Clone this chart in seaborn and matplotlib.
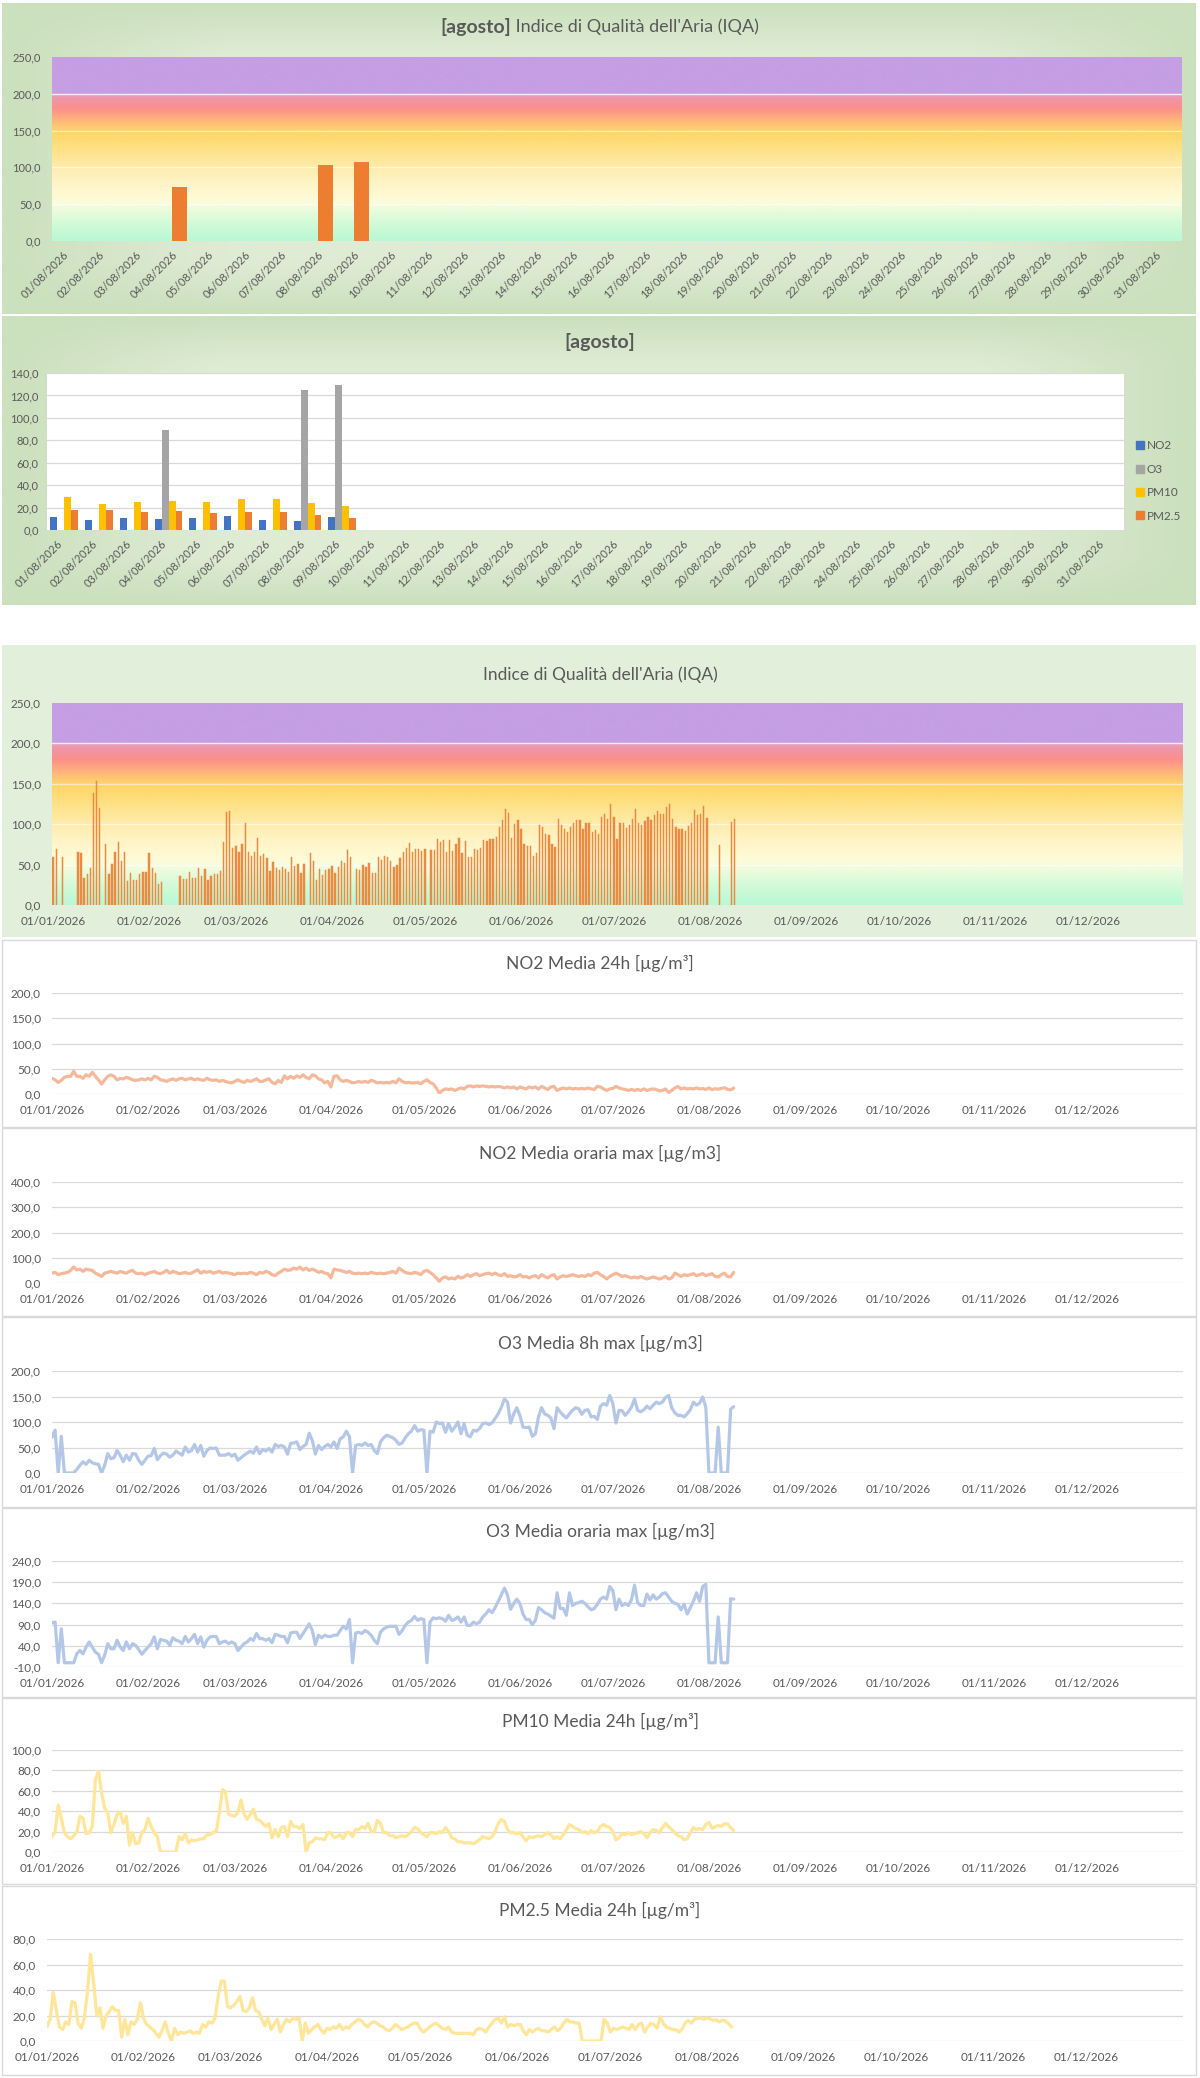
import numpy as np
import pandas as pd
import matplotlib
matplotlib.use("Agg")
import matplotlib.pyplot as plt
import seaborn as sns
from matplotlib.patches import Rectangle
from matplotlib.lines import Line2D

N = np.nan

# ---------------- DATA ----------------
aug_dates = [f"{d:02d}/08/2026" for d in range(1, 32)]
aug_iqa = [N, N, N, 74.0, N, N, N, 103.0, 107.0]
aug_no2 = [11.9, 8.6, 10.4, 9.5, 11.0, 12.5, 9.2, 8.0, 11.6]
aug_o3 = [N, N, N, 89.5, N, N, N, 124.6, 129.6]
aug_pm10 = [29.1, 23.2, 24.7, 25.9, 25.0, 27.6, 27.6, 23.8, 21.1]
aug_pm25 = [18.1, 17.5, 16.3, 16.6, 14.9, 16.3, 15.8, 13.4, 11.0]
pollutants = ["NO2", "O3", "PM10", "PM2.5"]

month_labels = ["01/01/2026", "01/02/2026", "01/03/2026", "01/04/2026", "01/05/2026", "01/06/2026",
                "01/07/2026", "01/08/2026", "01/09/2026", "01/10/2026", "01/11/2026", "01/12/2026"]
month_start = [0, 31, 59, 90, 120, 151, 181, 212, 243, 273, 304, 334]

iqa_year = (
    [60, 69, N, 59, N, N, N, N, 66, 64, 33, 38, 46, 139, 154, 120, N, 75, 38, 51, 66, 78, 55, 66, 30, 39, 31, 31, 38, 41, 41]  # gen
    + [64, 46, 39, 26, 28, N, N, N, N, N, 36, 32, 32, 41, 34, 34, 46, 36, 45, 31, 36, 38, 38, 42, 78, 115, 116, 70]  # feb
    + [73, 66, 76, 102, 66, 61, 66, 83, 61, 63, 58, 42, 53, 46, 43, 47, 44, 41, 59, 48, 51, 40, 51, N, 64, 54, 31, 44, 37, 43, 44]  # mar
    + [48, 39, 47, 55, 52, 68, 60, N, 45, 43, 50, 47, 52, 40, 40, 59, 56, 61, 59, 55, 47, 49, 58, 65, 70, 77, 65, 69, 69, 67]  # apr
    + [69, N, 68, 68, 82, 78, 80, 66, 80, 67, 76, 83, 64, 79, 59, 59, 69, 68, 71, 80, 79, 82, 82, 84, 97, 105, 119, 114, 83, 100, 105]  # mag
    + [94, 76, 73, 73, 61, 64, 99, 96, 88, 87, 76, 72, 107, 99, 94, 90, 96, 101, 105, 105, 94, 101, 102, 90, 93, 88, 109, 113, 107, 125]  # giu
    + [109, 82, 101, 101, 95, 99, 106, 119, 101, 99, 104, 109, 105, 112, 116, 113, 113, 121, 125, 106, 97, 94, 94, 91, 98, 102, 117, 111, 113, 122, 108]  # lug
    + [N, N, N, 74, N, N, N, 103, 107]  # ago
)

no2_24h = (
    [31, 28, 23, 27, 33, 35, 35, 45, 35, 35, 31, 38, 35, 43, 35, 28, 20, 28, 35, 38, 35, 28, 31, 30, 33, 31, 28, 27, 28, 30, 28]
    + [31, 28, 35, 33, 28, 27, 25, 28, 30, 27, 30, 31, 28, 30, 31, 28, 30, 28, 27, 31, 28, 27, 28, 25, 27, 25, 23, 22]
    + [25, 28, 25, 23, 27, 25, 27, 30, 25, 25, 28, 30, 23, 20, 27, 23, 36, 30, 35, 31, 36, 33, 38, 33, 30, 38, 36, 30, 28, 22, 25]
    + [14, 35, 36, 28, 25, 27, 25, 22, 23, 25, 23, 25, 23, 27, 25, 22, 23, 22, 23, 22, 25, 22, 30, 25, 22, 23, 22, 22, 23, 20]
    + [25, 28, 23, 20, 12, 2, 7, 10, 9, 10, 7, 10, 12, 10, 15, 16, 14, 16, 15, 16, 15, 14, 15, 14, 15, 14, 12, 14, 12, 14, 10]
    + [14, 12, 10, 14, 12, 14, 10, 15, 12, 9, 14, 15, 7, 10, 12, 10, 12, 10, 11, 10, 11, 10, 12, 10, 9, 15, 14, 10, 7, 10]
    + [11, 15, 12, 10, 9, 7, 9, 7, 9, 7, 10, 7, 9, 10, 9, 6, 7, 10, 3, 7, 12, 15, 10, 12, 10, 11, 10, 12, 10, 11, 9]
    + [11.9, 8.6, 10.4, 9.5, 11.0, 12.5, 9.2, 8.0, 11.6]
)

no2_max = (
    [39, 42, 33, 37, 39, 42, 50, 63, 52, 55, 46, 55, 52, 50, 39, 33, 26, 39, 42, 46, 42, 39, 46, 42, 39, 46, 50, 39, 37, 39, 33]
    + [39, 42, 46, 39, 37, 42, 50, 39, 46, 42, 37, 39, 42, 37, 39, 46, 52, 39, 46, 42, 46, 39, 42, 46, 39, 42, 39, 37]
    + [33, 39, 37, 39, 37, 42, 39, 33, 42, 39, 46, 42, 33, 29, 39, 46, 55, 50, 52, 59, 55, 63, 52, 59, 50, 55, 50, 42, 46, 39, 37]
    + [20, 55, 52, 50, 46, 42, 46, 39, 37, 39, 37, 39, 37, 42, 39, 37, 39, 37, 39, 42, 46, 39, 59, 50, 42, 39, 37, 42, 39, 33]
    + [46, 50, 42, 33, 20, 7, 20, 24, 16, 20, 16, 26, 20, 24, 33, 26, 33, 37, 29, 33, 37, 39, 33, 39, 33, 29, 37, 26, 29, 24, 26]
    + [33, 24, 26, 20, 26, 29, 20, 33, 26, 20, 29, 33, 16, 24, 29, 26, 29, 33, 29, 26, 29, 26, 33, 29, 39, 42, 33, 26, 16, 26]
    + [33, 39, 33, 26, 29, 24, 20, 24, 20, 26, 20, 16, 20, 24, 20, 16, 20, 26, 16, 20, 39, 33, 26, 33, 29, 33, 37, 29, 33, 37, 29]
    + [33, 37, 26, 24, 33, 39, 26, 24, 42]
)

o3_8h = (
    [70, 84, 0, 72, 0, 0, 0, 0, 7, 15, 22, 17, 25, 20, 18, 17, 0, 15, 38, 28, 30, 44, 35, 22, 35, 25, 38, 37, 25, 17, 25]
    + [33, 34, 48, 26, 34, 39, 37, 31, 35, 43, 39, 35, 51, 41, 44, 56, 41, 54, 33, 44, 49, 48, 49, 35, 35, 35, 38, 33]
    + [37, 25, 30, 35, 39, 43, 39, 51, 38, 46, 43, 48, 41, 56, 52, 54, 51, 37, 58, 59, 61, 46, 52, 56, 78, 64, 37, 54, 46, 52, 56]
    + [51, 61, 48, 67, 71, 82, 71, 0, 54, 56, 54, 59, 54, 56, 44, 38, 61, 69, 74, 72, 69, 64, 56, 59, 69, 77, 82, 93, 82, 85]
    + [84, 0, 82, 80, 100, 97, 98, 80, 97, 82, 90, 100, 77, 97, 74, 71, 84, 82, 87, 97, 98, 95, 98, 107, 116, 129, 145, 139, 98, 116, 128]
    + [113, 90, 89, 90, 72, 77, 110, 128, 116, 113, 108, 87, 128, 120, 113, 108, 116, 123, 128, 126, 115, 123, 124, 110, 111, 105, 131, 136, 133, 152]
    + [136, 98, 123, 122, 113, 120, 129, 145, 123, 120, 124, 131, 126, 133, 139, 136, 139, 148, 152, 128, 118, 113, 113, 110, 116, 124, 139, 133, 137, 149, 129]
    + [0, 0, 0, 90, 0, 0, 0, 125, 130]
)

o3_max = (
    [94, 96, 0, 80, 0, 0, 0, 0, 21, 29, 21, 37, 49, 37, 25, 20, 0, 18, 45, 33, 33, 53, 37, 29, 49, 33, 45, 41, 31, 20, 29]
    + [37, 45, 61, 33, 55, 53, 51, 41, 59, 53, 51, 45, 62, 49, 57, 67, 45, 61, 37, 53, 61, 62, 62, 45, 49, 51, 45, 49]
    + [45, 29, 37, 45, 49, 57, 53, 69, 57, 57, 53, 57, 47, 67, 65, 62, 62, 47, 70, 72, 72, 57, 69, 80, 92, 76, 43, 65, 59, 65, 62]
    + [62, 65, 65, 76, 86, 80, 102, 0, 70, 72, 69, 76, 72, 65, 53, 45, 72, 80, 84, 86, 86, 86, 67, 76, 88, 96, 100, 109, 100, 104]
    + [102, 0, 96, 106, 104, 106, 104, 98, 112, 100, 102, 108, 96, 108, 88, 88, 96, 92, 96, 108, 115, 125, 118, 130, 145, 160, 176, 160, 126, 140, 150]
    + [140, 115, 102, 102, 90, 100, 130, 125, 118, 115, 110, 105, 165, 128, 128, 112, 165, 135, 140, 142, 145, 140, 132, 125, 128, 138, 150, 155, 150, 180]
    + [170, 125, 150, 135, 140, 135, 148, 183, 142, 135, 135, 162, 148, 160, 150, 155, 163, 165, 155, 145, 140, 138, 125, 138, 115, 130, 145, 165, 145, 180, 185]
    + [0, 0, 0, 108, 0, 0, 0, 151, 150]
)

pm10 = (
    [15, 20, 46, 33, 19, 15, 13, 16, 19, 35, 33, 18, 19, 25, 71, 79, 58, 43, 38, 19, 27, 37, 39, 28, 35, 7, 19, 8, 9, 19, 22]
    + [33, 25, 19, 15, 0, 0, 0, 0, 0, 0, 15, 12, 18, 9, 12, 11, 12, 13, 13, 17, 17, 19, 20, 38, 61, 59, 37, 36]
    + [35, 39, 51, 37, 32, 37, 42, 32, 31, 28, 25, 28, 14, 22, 15, 24, 25, 15, 30, 25, 25, 23, 27, 0, 9, 10, 14, 13, 13, 12, 19]
    + [19, 14, 15, 17, 13, 19, 19, 15, 22, 22, 25, 23, 28, 20, 20, 31, 28, 19, 19, 16, 16, 14, 15, 16, 15, 17, 20, 24, 23, 19]
    + [17, 15, 19, 19, 18, 20, 19, 24, 20, 14, 13, 10, 10, 9, 9, 9, 8, 10, 12, 15, 14, 13, 15, 20, 28, 32, 30, 22, 19, 19, 18]
    + [19, 15, 11, 15, 14, 15, 16, 15, 17, 19, 17, 13, 15, 13, 17, 22, 27, 25, 23, 22, 19, 20, 18, 21, 19, 20, 25, 27, 25, 24]
    + [20, 12, 14, 18, 17, 19, 17, 18, 19, 20, 18, 14, 19, 22, 21, 19, 24, 28, 25, 22, 19, 16, 15, 12, 13, 19, 24, 22, 23, 22, 27]
    + [29.1, 23.2, 24.7, 25.9, 25.0, 27.6, 27.6, 23.8, 21.1]
)

pm25 = (
    [11, 17, 38, 24, 11, 9, 15, 13, 31, 30, 14, 10, 18, 39, 68, 45, 20, 26, 10, 20, 23, 27, 24, 24, 3, 17, 5, 15, 13, 17, 30]
    + [18, 13, 11, 9, 6, 3, 9, 15, 6, 0, 10, 5, 7, 6, 7, 8, 6, 7, 6, 13, 11, 15, 14, 18, 35, 47, 47, 27]
    + [26, 28, 31, 35, 24, 23, 26, 34, 24, 23, 17, 12, 18, 9, 13, 17, 7, 13, 17, 15, 18, 17, 18, 0, 14, 6, 9, 11, 13, 9, 6]
    + [10, 9, 11, 10, 13, 9, 11, 10, 13, 15, 17, 16, 13, 11, 14, 15, 14, 12, 11, 9, 8, 10, 13, 11, 9, 10, 11, 13, 14, 14]
    + [9, 7, 9, 11, 13, 14, 12, 10, 9, 11, 7, 6, 6, 6, 6, 6, 6, 5, 9, 10, 9, 7, 11, 14, 17, 18, 14, 19, 11, 13, 12]
    + [13, 13, 8, 5, 9, 7, 9, 10, 8, 8, 7, 9, 11, 8, 10, 14, 17, 15, 15, 14, 14, 0, 0, 0, 0, 0, 0, 0, 17, 14]
    + [7, 10, 9, 10, 11, 10, 9, 13, 9, 13, 14, 7, 11, 14, 13, 10, 19, 14, 11, 10, 9, 9, 7, 9, 14, 16, 14, 17, 18, 18, 17]
    + [18.1, 17.5, 16.3, 16.6, 14.9, 16.3, 15.8, 13.4, 11.0]
)

# ---------------- STYLE ----------------
sns.set_theme(style="white")
plt.rcParams['font.family'] = ['Lato', 'DejaVu Sans']
TXT = '#595959'
W, H = 1200, 2078
fig = plt.figure(figsize=(W / 100, H / 100), dpi=100)
fig.patch.set_facecolor('white')


def ax_px(x0, y0, x1, y1):
    return fig.add_axes([x0 / W, 1 - y1 / H, (x1 - x0) / W, (y1 - y0) / H])


def rect_px(x0, y0, x1, y1, **kw):
    r = Rectangle((x0 / W, 1 - y1 / H), (x1 - x0) / W, (y1 - y0) / H,
                  transform=fig.transFigure, zorder=-20, **kw)
    fig.patches.append(r)


def fmt(v):
    return f"{v:.1f}".replace('.', ',')


def clean(ax):
    for s in ax.spines.values():
        s.set_visible(False)


def green_bg(x0, y0, x1, y1, light, dark):
    bax = ax_px(x0, y0, x1, y1)
    bax.set_zorder(-10)
    nx, ny = 240, 80
    tx = np.linspace(0, 1, nx)
    ty = np.linspace(0, 1, ny)
    fx = np.clip(1.8 * np.sin(np.pi * tx), 0, 1)
    fy = np.clip(2.0 * np.sin(np.pi * ty), 0, 1)
    f = fy[:, None] * fx[None, :]
    light = np.array(light) / 255
    dark = np.array(dark) / 255
    img = dark[None, None, :] + (light - dark)[None, None, :] * f[:, :, None]
    bax.imshow(img, extent=[0, 1, 0, 1], aspect='auto', interpolation='bilinear')
    bax.axis('off')


# IQA band gradient (styling)
stops_v = [0, 20, 40, 50, 60, 80, 100, 120, 140, 152, 166, 180, 194, 199.6, 200.4, 250]
stops_c = [(185, 248, 214), (205, 250, 215), (232, 252, 220), (248, 252, 222), (255, 250, 212),
           (255, 244, 198), (254, 236, 172), (254, 228, 142), (254, 218, 112), (254, 208, 110),
           (253, 178, 124), (252, 143, 138), (238, 150, 168), (230, 160, 192), (197, 158, 227),
           (197, 158, 227)]


def iqa_background(ax, xl):
    vv = np.linspace(0, 250, 600)
    cols = np.array(stops_c) / 255
    img = np.stack([np.interp(vv, stops_v, cols[:, k]) for k in range(3)], axis=-1)
    img = img[::-1][:, None, :]
    ax.imshow(img, extent=[xl[0], xl[1], 0, 250], aspect='auto', zorder=0, interpolation='bilinear')
    for v in [50, 100, 150, 200]:
        ax.axhline(v, color='white', alpha=0.55 if v != 200 else 0.8, lw=1, zorder=1)


# ---------------- PANEL 1: August IQA ----------------
green_bg(2, 3, 1196, 314, (223, 236, 213), (203, 224, 189))
ax1 = ax_px(52, 57, 1182, 241)
ax1.set_facecolor('none')
df1 = pd.DataFrame({"data": aug_dates, "IQA": aug_iqa + [N] * (31 - len(aug_iqa))})
sns.barplot(data=df1.dropna(), x="data", y="IQA", order=aug_dates, color='#ED7D31',
            width=0.41, errorbar=None, ax=ax1, zorder=3, saturation=1, linewidth=0)
iqa_background(ax1, (-0.5, 30.5))
ax1.set_xlim(-0.5, 30.5)
ax1.set_ylim(0, 250)
ax1.set_yticks(np.arange(0, 251, 50))
ax1.set_yticklabels([fmt(v) for v in np.arange(0, 251, 50)])
ax1.set_xticks(range(31))
ax1.set_xticklabels(aug_dates, rotation=45, ha='right')
ax1.set_xlabel('')
ax1.set_ylabel('')
ax1.tick_params(axis='both', length=0, labelsize=8, colors=TXT)
ax1.tick_params(axis='x', pad=6)
ax1.tick_params(axis='y', pad=8)
clean(ax1)

t1a = fig.text(0, 1 - 27 / H, "[agosto]", fontsize=14, weight='bold', color=TXT, va='center')
t1b = fig.text(0, 1 - 27 / H, " Indice di Qualità dell'Aria (IQA)", fontsize=13, color=TXT, va='center')
rend = fig.canvas.get_renderer()
wa = t1a.get_window_extent(rend).width
wb = t1b.get_window_extent(rend).width
start = 600 - (wa + wb) / 2
t1a.set_x(start / W)
t1b.set_x((start + wa) / W)

# ---------------- PANEL 2: August pollutants ----------------
green_bg(2, 316, 1196, 605, (223, 236, 213), (203, 224, 189))
ax2 = ax_px(47, 373, 1124, 530)
ax2.set_facecolor('white')
pad_n = 31 - len(aug_no2)
df2 = pd.DataFrame({
    "data": aug_dates * 4,
    "inquinante": sum([[p] * 31 for p in pollutants], []),
    "valore": (aug_no2 + [N] * pad_n) + (aug_o3 + [N] * pad_n) + (aug_pm10 + [N] * pad_n) + (aug_pm25 + [N] * pad_n),
})
pal = {"NO2": "#4472C4", "O3": "#A5A5A5", "PM10": "#FFC000", "PM2.5": "#ED7D31"}
sns.barplot(data=df2.dropna(), x="data", y="valore", hue="inquinante", order=aug_dates,
            hue_order=pollutants, palette=pal, width=0.8, errorbar=None, ax=ax2,
            legend=False, saturation=1, zorder=3, linewidth=0)
ax2.set_xlim(-0.5, 30.5)
ax2.set_ylim(0, 140)
ax2.set_yticks(np.arange(0, 141, 20))
ax2.set_yticklabels([fmt(v) for v in np.arange(0, 141, 20)])
for v in np.arange(20, 141, 20):
    ax2.axhline(v, color='#d9d9d9', lw=0.9, zorder=1)
ax2.set_xticks(range(31))
ax2.set_xticklabels(aug_dates, rotation=45, ha='right')
ax2.set_xlabel('')
ax2.set_ylabel('')
ax2.tick_params(axis='both', length=0, labelsize=8, colors=TXT)
ax2.tick_params(axis='x', pad=6)
ax2.tick_params(axis='y', pad=6)
clean(ax2)
handles = [Line2D([], [], marker='s', ls='', color=pal[p], markersize=6) for p in pollutants]
fig.legend(handles, pollutants, loc='center left', bbox_to_anchor=(1134 / W, 1 - 481 / H),
           frameon=False, fontsize=8.5, labelcolor=TXT, handletextpad=0.1, labelspacing=1.05,
           handlelength=1.0, borderaxespad=0, borderpad=0)
fig.text(600 / W, 1 - 342 / H, "[agosto]", fontsize=14, weight='bold', color=TXT, ha='center', va='center')

# ---------------- PANEL 3: yearly IQA ----------------
rect_px(2, 645, 1196, 937, facecolor=(226 / 255, 239 / 255, 218 / 255), edgecolor='none')
ax3 = ax_px(52, 703, 1183, 905)
ax3.set_facecolor('none')
df3 = pd.DataFrame({"giorno": np.arange(len(iqa_year)), "IQA": iqa_year}).dropna()
sns.barplot(data=df3, x="giorno", y="IQA", native_scale=True, width=0.42, color='#EC8A42',
            errorbar=None, ax=ax3, saturation=1, zorder=3, edgecolor='#EC8A42', linewidth=0.35)
xl3 = (-0.35, 364.65)
iqa_background(ax3, xl3)
ax3.set_xlim(*xl3)
ax3.set_ylim(0, 250)
ax3.set_yticks(np.arange(0, 251, 50))
ax3.set_yticklabels([fmt(v) for v in np.arange(0, 251, 50)])
ax3.set_xticks(month_start)
ax3.set_xticklabels(month_labels)
ax3.set_xlabel('')
ax3.set_ylabel('')
ax3.tick_params(axis='both', length=0, labelsize=8.5, colors=TXT)
ax3.tick_params(axis='x', pad=8)
ax3.tick_params(axis='y', pad=8)
clean(ax3)
fig.text(600 / W, 1 - 675 / H, "Indice di Qualità dell'Aria (IQA)", fontsize=12.5, color=TXT,
         ha='center', va='center')

# ---------------- LINE PANELS ----------------
line_panels = [
    ("NO2 Media 24h [µg/m³]", no2_24h, '#F4B99A', (0, 200), 50, 940, 1127, 963, 993, 1094, 52),
    ("NO2 Media oraria max [µg/m3]", no2_max, '#F4B99A', (0, 400), 100, 1128, 1316, 1153, 1182, 1283, 52),
    ("O3 Media 8h max [µg/m3]", o3_8h, '#B4C7E7', (0, 200), 50, 1317, 1507, 1343, 1371, 1473, 52),
    ("O3 Media oraria max [µg/m3]", o3_max, '#B4C7E7', (-10, 240), 50, 1508, 1697, 1531, 1561, 1667, 52),
    ("PM10 Media 24h [µg/m³]", pm10, '#FFE699', (0, 100), 20, 1698, 1884, 1721, 1750, 1852, 52),
    ("PM2.5 Media 24h [µg/m³]", pm25, '#FFE699', (0, 80), 20, 1886, 2075, 1910, 1939, 2041, 47),
]

for title, vals, col, yl, step, py0, py1, ty, top, bot, left in line_panels:
    rect_px(2, py0, 1196, py1, facecolor='white', edgecolor='#d9d9d9', linewidth=1)
    ax = ax_px(left, top, 1183, bot)
    ax.set_facecolor('none')
    yt = np.arange(yl[0], yl[1] + 0.1, step)
    for v in yt:
        ax.axhline(v, color='#d9d9d9', lw=0.9, zorder=1)
    sns.lineplot(x=np.arange(len(vals)), y=np.array(vals, dtype=float), ax=ax, color=col,
                 linewidth=2.3, zorder=3)
    ax.set_xlim(0, 365)
    ax.set_ylim(*yl)
    ax.set_yticks(yt)
    ax.set_yticklabels([fmt(v) for v in yt])
    ax.set_xticks(month_start)
    ax.set_xticklabels(month_labels)
    ax.set_xlabel('')
    ax.set_ylabel('')
    ax.tick_params(axis='both', length=0, labelsize=8.5, colors=TXT)
    ax.tick_params(axis='x', pad=8)
    ax.tick_params(axis='y', pad=8)
    clean(ax)
    fig.text(600 / W, 1 - ty / H, title, fontsize=12.5, color=TXT, ha='center', va='center')

fig.savefig("out.png", dpi=100, facecolor='white')
